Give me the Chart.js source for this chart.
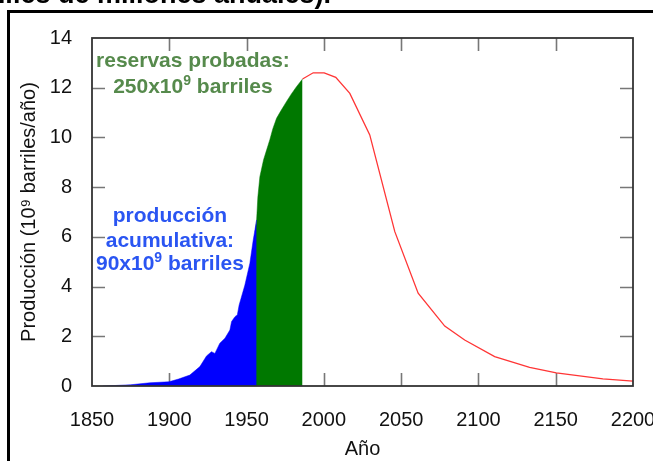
<!DOCTYPE html>
<html>
<head>
<meta charset="utf-8">
<script src="https://cdn.jsdelivr.net/npm/chart.js@4/dist/chart.umd.min.js"></script>
<style>
  html, body { margin: 0; padding: 0; background: #fff; width: 653px; height: 461px; overflow: hidden; }
  #wrap { position: relative; width: 653px; height: 461px; overflow: hidden; }
  #c { position: absolute; left: 0; top: 0; }
  #frame { position: absolute; left: 7px; top: 10px; width: 700px; height: 500px;
           border-left: 3px solid #000; border-top: 3px solid #000; box-sizing: border-box; pointer-events: none; }
  #title { position: absolute; right: 322px; top: -19px; white-space: nowrap;
           font: bold 27px "Liberation Sans", Arial, sans-serif; line-height: 27px; color: #000; }
</style>
</head>
<body>
<div id="wrap">
  <canvas id="c" width="653" height="461"></canvas>
  <div id="frame"></div>
  <div id="title">Producción de petróleo (en miles de millones anuales).</div>
</div>
<script>
// ---- data (years, 10^9 barrels / year) ----
const xTicks = [1850, 1900, 1950, 2000, 2050, 2100, 2150, 2200];
const yTicks = [0, 2, 4, 6, 8, 10, 12, 14];

const cumulativeYears  = [1857, 1865, 1875, 1887.5, 1899.8, 1906, 1913.3, 1919.8, 1924.1, 1927.3, 1929.5, 1932.7, 1936, 1939.2, 1940.3, 1942.5, 1944, 1945.2, 1948.9, 1952.1, 1954.3, 1956.5];
const cumulativeValues = [0, 0.02, 0.05, 0.13, 0.17, 0.28, 0.44, 0.78, 1.21, 1.38, 1.31, 1.72, 1.92, 2.25, 2.59, 2.79, 2.86, 3.26, 4.06, 4.93, 5.87, 6.68];

const reserveYears  = [1955.6, 1956.5, 1957.3, 1958.6, 1961, 1963, 1965, 1967, 1969.4, 1972, 1975.8, 1979, 1982.3, 1986.2];
const reserveValues = [6.2, 6.68, 7.6, 8.42, 9.1, 9.5, 9.9, 10.35, 10.77, 11.05, 11.44, 11.75, 12.04, 12.35];

const forecastYears  = [1986.2, 1993.1, 2000.2, 2007.7, 2016.8, 2029.7, 2045.9, 2061, 2078.2, 2091.1, 2110.5, 2133.1, 2150.4, 2180.5, 2200];
const forecastValues = [12.35, 12.6, 12.6, 12.42, 11.77, 10.1, 6.21, 3.73, 2.41, 1.85, 1.18, 0.75, 0.53, 0.29, 0.2];

const labelReserves   = ["reservas probadas:", ["250x10", "9", " barriles"]];
const labelCumulative = ["producción", "acumulativa:", ["90x10", "9", " barriles"]];

const pts = (xs, ys) => xs.map((x, i) => ({x: x, y: ys[i]}));

const FONT = '"Liberation Sans", Arial, Helvetica, sans-serif';

// inward ticks + frame (gnuplot style)
const frameTicks = {
  id: 'frameTicks',
  beforeDatasetsDraw(chart) {
    const {ctx, chartArea: a, scales: {x, y}} = chart;
    const L = 13;
    ctx.save();
    ctx.strokeStyle = '#777';
    ctx.lineWidth = 1.6;
    ctx.beginPath();
    xTicks.slice(1, -1).forEach(v => {
      const px = Math.round(x.getPixelForValue(v)) + 0.5;
      ctx.moveTo(px, a.bottom); ctx.lineTo(px, a.bottom - L);
      ctx.moveTo(px, a.top); ctx.lineTo(px, a.top + L);
    });
    yTicks.slice(1, -1).forEach(v => {
      const py = Math.round(y.getPixelForValue(v)) + 0.5;
      ctx.moveTo(a.left, py); ctx.lineTo(a.left + L, py);
      ctx.moveTo(a.right, py); ctx.lineTo(a.right - L, py);
    });
    ctx.stroke();
    ctx.restore();
  },
  afterDraw(chart) {
    const {ctx, chartArea: a, scales: {x, y}} = chart;
    ctx.save();
    ctx.strokeStyle = '#333';
    ctx.lineWidth = 1.8;
    ctx.strokeRect(a.left, a.top, a.right - a.left, a.bottom - a.top);

    // annotations placed in data coordinates
    const drawLine = (parts, cx, by, color) => {
      ctx.fillStyle = color;
      ctx.textBaseline = 'alphabetic';
      ctx.textAlign = 'left';
      const big = 'bold 21px ' + FONT, small = 'bold 14px ' + FONT;
      if (typeof parts === 'string') parts = [parts];
      const fonts = parts.map((p, i) => (parts.length === 3 && i === 1) ? small : big);
      const widths = parts.map((p, i) => { ctx.font = fonts[i]; return ctx.measureText(p).width; });
      const total = widths.reduce((s, w) => s + w, 0);
      let px = cx - total / 2;
      parts.forEach((p, i) => {
        ctx.font = fonts[i];
        const dy = (fonts[i] === small) ? -8 : 0;
        ctx.fillText(p, px, by + dy);
        px += widths[i];
      });
    };
    const green = '#568a4c', blue = '#2a55f2';
    const gx = x.getPixelForValue(1915.3);
    drawLine(labelReserves[0], gx, y.getPixelForValue(12.83), green);
    drawLine(labelReserves[1], gx, y.getPixelForValue(11.79), green);
    const bx = x.getPixelForValue(1900.4);
    drawLine(labelCumulative[0], bx, y.getPixelForValue(6.6), blue);
    drawLine(labelCumulative[1], bx, y.getPixelForValue(5.59), blue);
    drawLine(labelCumulative[2], bx, y.getPixelForValue(4.67), blue);
    ctx.restore();
  }
};

new Chart(document.getElementById('c'), {
  type: 'line',
  data: {
    datasets: [
      { data: pts(cumulativeYears, cumulativeValues), fill: 'origin', backgroundColor: '#0000ff',
        borderColor: '#0000ff', borderWidth: 0.5, pointRadius: 0, tension: 0, order: 0 },
      { data: pts(reserveYears, reserveValues), fill: 'origin', backgroundColor: '#007800',
        borderColor: '#007800', borderWidth: 0.5, pointRadius: 0, tension: 0, order: 1 },
      { data: pts(forecastYears, forecastValues), fill: false,
        borderColor: '#ff3535', borderWidth: 1.3, pointRadius: 0, tension: 0, order: 2 }
    ]
  },
  options: {
    responsive: false,
    animation: false,
    devicePixelRatio: 1,
    layout: { padding: { left: 0, top: 38, right: 20, bottom: 0 } },
    plugins: { legend: { display: false }, tooltip: { enabled: false } },
    scales: {
      x: {
        type: 'linear', min: 1850, max: 2200,
        afterBuildTicks: s => { s.ticks = xTicks.map(v => ({value: v})); },
        afterFit: s => { s.height = 75; s.paddingLeft = 0; s.paddingRight = 0; },
        grid: { display: false, drawTicks: false },
        border: { display: false },
        ticks: { padding: 22, color: '#111', maxRotation: 0, autoSkip: false,
                 callback: v => String(v),
                 font: { family: FONT, size: 20 } },
        title: { display: true, text: 'Año', color: '#111', padding: { top: 0, bottom: 0 },
                 font: { family: FONT, size: 20 } }
      },
      y: {
        min: 0, max: 14,
        afterBuildTicks: s => { s.ticks = yTicks.map(v => ({value: v})); },
        afterFit: s => { s.width = 92; s.paddingTop = 0; s.paddingBottom = 0; },
        grid: { display: false, drawTicks: false },
        border: { display: false },
        ticks: { padding: 20, color: '#111', callback: v => String(v),
                 font: { family: FONT, size: 20 } },
        title: { display: true, text: 'Producción (10⁹ barriles/año)', color: '#111',
                 padding: { top: 17, bottom: 0 }, font: { family: FONT, size: 20 } }
      }
    }
  },
  plugins: [frameTicks]
});
</script>
</body>
</html>
